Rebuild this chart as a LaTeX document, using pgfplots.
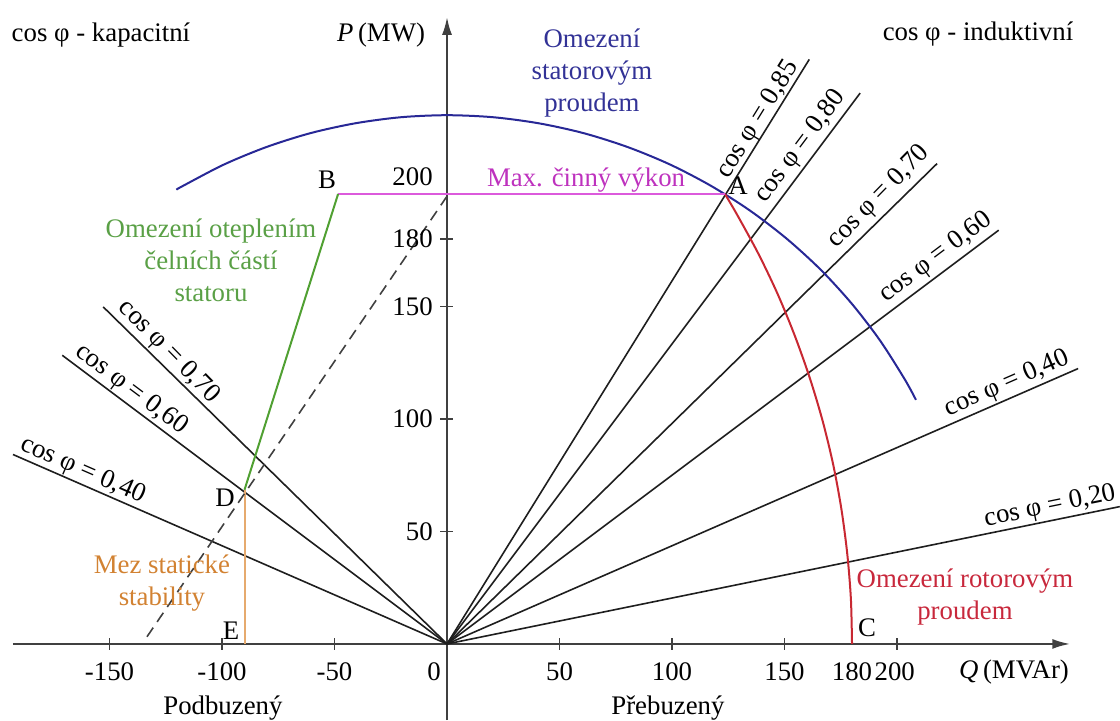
\documentclass[border=0pt]{standalone}
\usepackage{fontspec}
\setmainfont{Liberation Serif}
\usepackage{pgfplots}
\pgfplotsset{compat=1.18}
\usetikzlibrary{arrows.meta}
\definecolor{cblue}{RGB}{40,40,150}
\definecolor{tblue}{RGB}{50,50,150}
\definecolor{cred}{RGB}{200,40,50}
\definecolor{tred}{RGB}{200,40,60}
\definecolor{cmag}{RGB}{220,90,220}
\definecolor{tmag}{RGB}{190,50,190}
\definecolor{cgreen}{RGB}{80,160,50}
\definecolor{tgreen}{RGB}{90,160,70}
\definecolor{corange}{RGB}{230,170,110}
\definecolor{torange}{RGB}{210,130,50}
\definecolor{cblack}{RGB}{30,30,30}
\newcommand\fs{\fontsize{13.4}{16}\selectfont}
\begin{document}
\fs
\begin{tikzpicture}
\begin{axis}[
  scale only axis, width=560pt, height=360pt,
  xmin=-198.67, xmax=299.1, ymin=-33.8, ymax=286.2,
  hide axis, clip=false, unbounded coords=jump,
  every node/.append style={font=\fs, text=cblack},
]
% axes
\addplot[cblack!85, line width=1.1pt, -{Latex[length=9pt,width=5pt]}] coordinates {(-193,0) (277,0)};
\addplot[cblack!85, line width=1.1pt, -{Latex[length=9pt,width=5pt]}] coordinates {(0,-33.8) (0,278.7)};
% ticks
\addplot[cblack!85, line width=0.9pt] coordinates {
(-150,-2.5) (-150,2.5) (nan,nan)
(-100,-2.5) (-100,2.5) (nan,nan)
(-50,-2.5) (-50,2.5) (nan,nan)
(50,-2.5) (50,2.5) (nan,nan)
(100,-2.5) (100,2.5) (nan,nan)
(150,-2.5) (150,2.5) (nan,nan)
(200,-2.5) (200,2.5)};
\addplot[cblack!85, line width=0.9pt] coordinates {
(-3,50) (2.5,50) (nan,nan)
(-3,100) (2.5,100) (nan,nan)
(-3,150) (2.5,150) (nan,nan)
(-3,180) (2.5,180)};
% cos phi lines, inductive
\addplot[cblack, line width=0.8pt] coordinates {(0,0) (161,259.8)};
\addplot[cblack, line width=0.8pt] coordinates {(0,0) (183.6,244.8)};
\addplot[cblack, line width=0.8pt] coordinates {(0,0) (217.8,213.5)};
\addplot[cblack, line width=0.8pt] coordinates {(0,0) (245.2,183.9)};
\addplot[cblack, line width=0.8pt] coordinates {(0,0) (280.5,122.4)};
\addplot[cblack, line width=0.8pt] coordinates {(0,0) (299,61.04)};
% capacitive
\addplot[cblack, line width=0.8pt] coordinates {(0,0) (-152.8,149.8)};
\addplot[cblack, line width=0.8pt] coordinates {(0,0) (-171,128.3)};
\addplot[cblack, line width=0.8pt] coordinates {(0,0) (-192.9,84.2)};
% stator current circle
\addplot[cblue, line width=1pt, smooth] coordinates {
(208.4,108.5) (203.5,117.5) (192.5,134.8) (180.0,151.1) (166.2,166.2) (151.1,180.0)
(134.8,192.5) (117.5,203.5) (99.3,213.0) (80.4,220.8) (60.8,227.0) (40.8,231.4)
(20.5,234.1) (0,235) (-20.5,234.1) (-40.8,231.4) (-60.8,227.0) (-80.4,220.8)
(-99.3,213.0) (-117.5,203.5) (-120.3,201.9)};
% rotor current circle
\addplot[cred, line width=1pt, smooth] coordinates {
(123.5,200) (128.8,191.0) (138.4,173.4) (147.0,155.4) (154.6,136.9) (161.3,118.0)
(167.0,98.9) (171.7,79.4) (175.3,59.8) (177.9,39.9) (179.5,20.0) (180,0)};
% max active power
\addplot[cmag, line width=1pt] coordinates {(-48.4,200) (123.5,200)};
% end-region heating
\addplot[cgreen, line width=1pt] coordinates {(-48.4,200) (-90,68.5)};
% static stability
\addplot[corange, line width=1pt] coordinates {(-90,68.5) (-90,0)};
% dashed
\addplot[cblack!85, line width=0.8pt, dash pattern=on 5.5pt off 3.5pt] coordinates {(0,199) (-134.5,1.5)};
% tick labels
\node at (axis cs:-150,-12.4) {-150};
\node at (axis cs:-100,-12.4) {-100};
\node at (axis cs:-50,-12.4) {-50};
\node at (axis cs:-5.8,-12.4) {0};
\node at (axis cs:50,-12.4) {50};
\node at (axis cs:100,-12.4) {100};
\node at (axis cs:150,-12.4) {150};
\node at (axis cs:180,-12.4) {180};
\node at (axis cs:199,-12.4) {200};
\node[anchor=east, inner sep=0pt] at (axis cs:-6.2,50) {50};
\node[anchor=east, inner sep=0pt] at (axis cs:-6.2,100) {100};
\node[anchor=east, inner sep=0pt] at (axis cs:-6.2,150) {150};
\node[anchor=east, inner sep=0pt] at (axis cs:-6.2,180) {180};
\node[anchor=east, inner sep=0pt] at (axis cs:-6.2,207.5) {200};
% axis labels
\node at (axis cs:252,-12.4) {\textit{Q}\,(MVAr)};
\node at (axis cs:-29.3,270.7) {\textit{P}\,(MW)};
\node at (axis cs:-99.6,-28.4) {Podbuzený};
\node at (axis cs:98.2,-28.4) {Přebuzený};
\node at (axis cs:-153.8,270.7) {cos φ - kapacitní};
\node at (axis cs:236,271.1) {cos φ - induktivní};
% points
\node at (axis cs:-53.3,206.2) {B};
\node at (axis cs:129.3,203.6) {A};
\node at (axis cs:-98.7,64.9) {D};
\node at (axis cs:-96,5.8) {E};
\node at (axis cs:186.7,7.1) {C};
% coloured labels
\node[align=center, text=tblue] at (axis cs:64.4,253.8) {Omezení\\statorovým\\proudem};
\node[text=tmag] at (axis cs:61.8,206.2) {Max. činný výkon};
\node[align=center, text=tgreen] at (axis cs:-104.9,170.7) {Omezení oteplením\\čelních částí\\statoru};
\node[align=center, text=torange] at (axis cs:-126.7,26.9) {Mez statické\\stability};
\node[align=center, text=tred] at (axis cs:230.2,20.7) {Omezení rotorovým\\proudem};
% cos phi labels
\node[rotate=58.2] at (axis cs:138.2,232.9) {cos φ = 0,85};
\node[rotate=53.13] at (axis cs:157.3,220.9) {cos φ = 0,80};
\node[rotate=45.57] at (axis cs:192,198.7) {cos φ = 0,70};
\node[rotate=36.87] at (axis cs:217.3,171.6) {cos φ = 0,60};
\node[rotate=23.58] at (axis cs:248.9,115.6) {cos φ = 0,40};
\node[rotate=11.54] at (axis cs:268,60.9) {cos φ = 0,20};
\node[rotate=-45.57] at (axis cs:-123.6,129.8) {cos φ = 0,70};
\node[rotate=-36.87] at (axis cs:-140.4,112.9) {cos φ = 0,60};
\node[rotate=-23.58] at (axis cs:-161.8,76.9) {cos φ = 0,40};
\end{axis}
\pgfresetboundingbox
\path[use as bounding box] (0,0) rectangle (560pt,360pt);
\end{tikzpicture}
\end{document}
